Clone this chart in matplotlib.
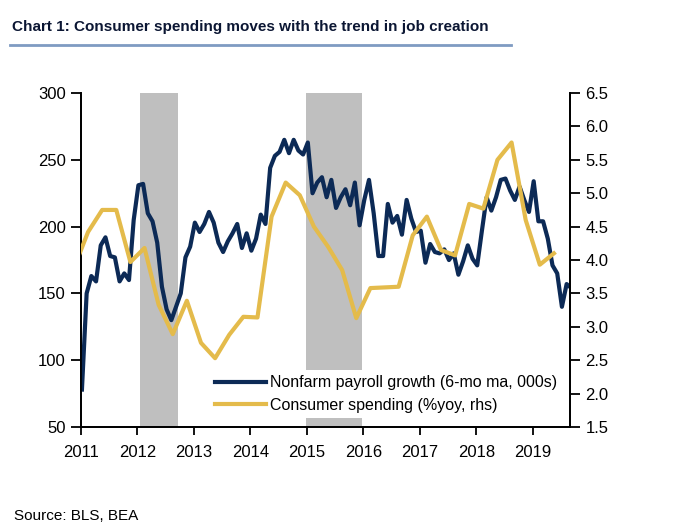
import numpy as np
import pandas as pd
import matplotlib
matplotlib.use('Agg')
import matplotlib.pyplot as plt
from matplotlib.ticker import FormatStrFormatter

plt.rcParams['font.family'] = ['Liberation Sans', 'DejaVu Sans']

# nonfarm payroll growth, 6-mo ma (000s), monthly from Jan 2011
nfp_start = '2011-01'
nfp = [78, 150, 163, 159, 186, 192, 178, 177, 159, 165, 160, 205,
       231, 232, 210, 204, 188, 155, 138, 130, 140, 150, 177, 185,
       203, 196, 202, 211, 203, 188, 181, 189, 195, 202, 184, 195,
       182, 191, 209, 202, 244, 253, 256, 265, 255, 265, 257, 254,
       263, 225, 233, 237, 222, 235, 214, 222, 228, 216, 233, 201,
       220, 235, 210, 178, 178, 217, 203, 208, 194, 220, 206, 196,
       197, 173, 187, 181, 180, 183, 175, 180, 164, 174, 186, 176,
       171, 197, 222, 212, 222, 235, 236, 227, 220, 230, 220, 211,
       234, 204, 204, 191, 171, 165, 140, 157, 154]

# consumer spending %yoy, quarterly from 2010Q4
cs_start = '2010Q4'
cs = [3.88, 4.42, 4.75, 4.75, 3.97, 4.18, 3.33, 2.89, 3.39, 2.76, 2.53, 2.88,
      3.15, 3.14, 4.65, 5.16, 4.97, 4.50, 4.20, 3.85, 3.13, 3.58, 3.59, 3.60,
      4.37, 4.65, 4.15, 4.07, 4.84, 4.77, 5.50, 5.76, 4.60, 3.93, 4.10]

shade_periods = [(2012.05, 2012.71), (2014.98, 2015.97)]
years = list(range(2011, 2020))

nfp_months = pd.period_range(nfp_start, periods=len(nfp), freq='M')
nfp_x = nfp_months.year + (nfp_months.month - 0.8) / 12
cs_q = pd.period_range(cs_start, periods=len(cs), freq='Q')
cs_x = cs_q.year + (cs_q.quarter - 0.5) / 4

navy = '#0c2a56'
gold = '#e4bb4b'

fig = plt.figure(figsize=(7, 5.25), dpi=100)
ax = fig.add_axes([0.1157, 0.1867, 0.6986, 0.636])
ax2 = ax.twinx()

for a, b in shade_periods:
    ax.axvspan(a, b, color='#bfbfbf', lw=0, zorder=0)

l1, = ax.plot(nfp_x, nfp, color=navy, lw=3, zorder=3,
              label='Nonfarm payroll growth (6-mo ma, 000s)')
l2, = ax2.plot(cs_x, cs, color=gold, lw=3, zorder=3,
               label='Consumer spending (%yoy, rhs)')

ax.set_xlim(2011, 2019.66)
ax.set_ylim(50, 300)
ax2.set_ylim(1.5, 6.5)
ax.set_yticks(range(50, 301, 50))
ax2.set_yticks(np.arange(1.5, 6.51, 0.5))
ax2.yaxis.set_major_formatter(FormatStrFormatter('%.1f'))
ax.set_xticks(years)
ax.set_xticklabels([str(y) for y in years])

for a in (ax, ax2):
    a.spines['top'].set_visible(False)
    for s in a.spines.values():
        s.set_linewidth(1.3)
    a.tick_params(direction='out', length=7, width=1.3, labelsize=12, pad=4)
ax.tick_params(axis='x', length=6, pad=7)

leg = ax2.legend(handles=[l1, l2], loc='upper left', bbox_to_anchor=(0.262, 0.171),
                 frameon=True, fontsize=11.5, handlelength=3.2, handletextpad=0.25,
                 labelspacing=0.45, borderpad=0.35, borderaxespad=0)
leg.get_frame().set_facecolor('white')
leg.get_frame().set_edgecolor('none')
leg.get_frame().set_alpha(1)
leg.get_frame().set_boxstyle('square', pad=0)

fig.text(0.017, 0.948, 'Chart 1: Consumer spending moves with the trend in job creation',
         fontsize=11, fontweight='bold', color='#0b1633', va='center')
fig.add_artist(plt.Line2D([0.014, 0.73], [0.914, 0.914], color='#7f9bc2', lw=2))
fig.text(0.02, 0.03, 'Source: BLS, BEA', fontsize=11, va='top')

fig.savefig('out.png', dpi=100)
